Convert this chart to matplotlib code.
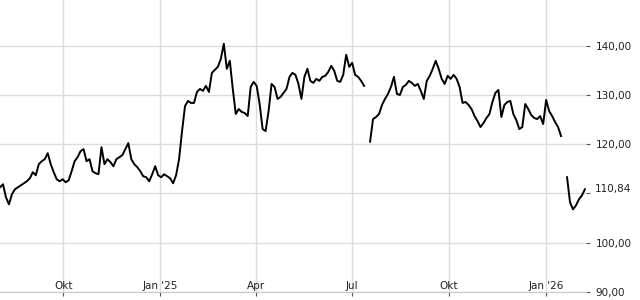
import numpy as np
import pandas as pd
import matplotlib
matplotlib.use("Agg")
import matplotlib.pyplot as plt
import matplotlib.transforms as mtransforms

# Kursverlauf (ca. alle 3 Tage), nan = Datenluecke
kurs = [
    111.22, 111.84, 109.18, 107.76, 109.80, 110.82, 111.22, 111.63, 112.04, 112.45,
    113.06, 114.29, 113.67, 115.92, 116.53, 116.94, 118.16, 115.92, 114.29, 112.86,
    112.45, 112.86, 112.24, 112.65, 114.49, 116.53, 117.35, 118.57, 118.98, 116.53,
    116.94, 114.49, 114.08, 113.88, 119.39, 115.92, 116.94, 116.33, 115.51, 116.94,
    117.35, 117.76, 118.98, 120.20, 116.94, 115.92, 115.31, 114.49, 113.47, 113.27,
    112.45, 113.88, 115.51, 113.67, 113.27, 113.88, 113.47, 113.06, 112.04, 113.67,
    116.94, 122.65, 127.76, 128.78, 128.37, 128.37, 130.61, 131.22, 130.82, 131.84,
    130.61, 134.49, 135.10, 135.71, 137.35, 140.41, 135.31, 136.94, 131.22, 126.12,
    127.14, 126.53, 126.33, 125.71, 131.63, 132.65, 131.84, 128.16, 123.06, 122.65,
    126.73, 132.24, 131.63, 129.18, 129.59, 130.41, 131.22, 133.67, 134.49, 134.08,
    132.24, 129.18, 133.67, 135.31, 132.86, 132.45, 133.27, 132.86, 133.67, 133.88,
    134.69, 135.92, 134.90, 132.86, 132.65, 134.08, 138.16, 135.71, 136.53, 134.08,
    133.67, 132.86, 131.84, np.nan, 120.50, 125.10, 125.51, 126.12, 127.96, 129.18,
    130.20, 131.63, 133.67, 130.20, 130.00, 131.63, 132.04, 132.86, 132.45, 131.84,
    132.24, 130.82, 129.18, 132.86, 133.88, 135.31, 136.94, 135.31, 133.27, 132.24,
    133.88, 133.27, 134.08, 133.27, 131.63, 128.37, 128.57, 127.96, 127.14, 125.71,
    124.69, 123.47, 124.29, 125.31, 126.12, 128.57, 130.41, 131.02, 125.51, 127.96,
    128.57, 128.78, 126.12, 124.90, 123.06, 123.47, 128.16, 127.14, 125.92, 125.31,
    125.10, 125.71, 124.08, 128.98, 126.73, 125.71, 124.49, 123.47, 121.63, np.nan,
    113.27, 108.16, 106.73, 107.55, 108.78, 109.59, 110.84,
]
datum = pd.date_range("2024-08-02", "2026-02-07", periods=len(kurs))

tick_daten = ["2024-10-01", "2025-01-01", "2025-04-01", "2025-07-01", "2025-10-01", "2026-01-01"]
tick_namen = ["Okt", "Jan '25", "Apr", "Jul", "Okt", "Jan '26"]
y_ticks = [90, 100, 110, 120, 130, 140]
letzter = 110.84

fig = plt.figure(figsize=(6.4, 3.0), dpi=100)
ax = fig.add_axes([0.0, 0.0277, 586 / 640, 1 - 0.0277])

ax.plot(datum, kurs, color="black", linewidth=1.4)

ax.set_xlim(pd.Timestamp("2024-08-02"), pd.Timestamp("2026-02-08"))
ax.set_ylim(90, 149.3)

ax.set_xticks(pd.to_datetime(tick_daten))
ax.set_xticklabels(tick_namen)
ax.yaxis.tick_right()
ax.set_yticks(y_ticks)
ax.set_yticklabels(["" if v == 110 else f"{v:.2f}".replace(".", ",") for v in y_ticks])

ax.grid(True, color="#dcdcdc", linewidth=1)
ax.set_axisbelow(True)
for s in ["left", "top", "right"]:
    ax.spines[s].set_visible(False)
ax.spines["bottom"].set_color("#c8c8c8")

ax.tick_params(axis="x", direction="out", length=3, color="#555555",
               labelsize=7.5, labelcolor="#222222", pad=-10.5)
ax.tick_params(axis="y", direction="out", length=3, color="#555555",
               labelsize=7.5, labelcolor="#222222", pad=4)

# aktueller Kurs an der Achse
trans = mtransforms.blended_transform_factory(ax.transAxes, ax.transData)
ax.text(1.0 + 9 / 586, letzter, f"{letzter:.2f}".replace(".", ","), transform=trans,
        fontsize=7.5, color="#222222", va="center", ha="left")

fig.savefig("out.png", dpi=100)
